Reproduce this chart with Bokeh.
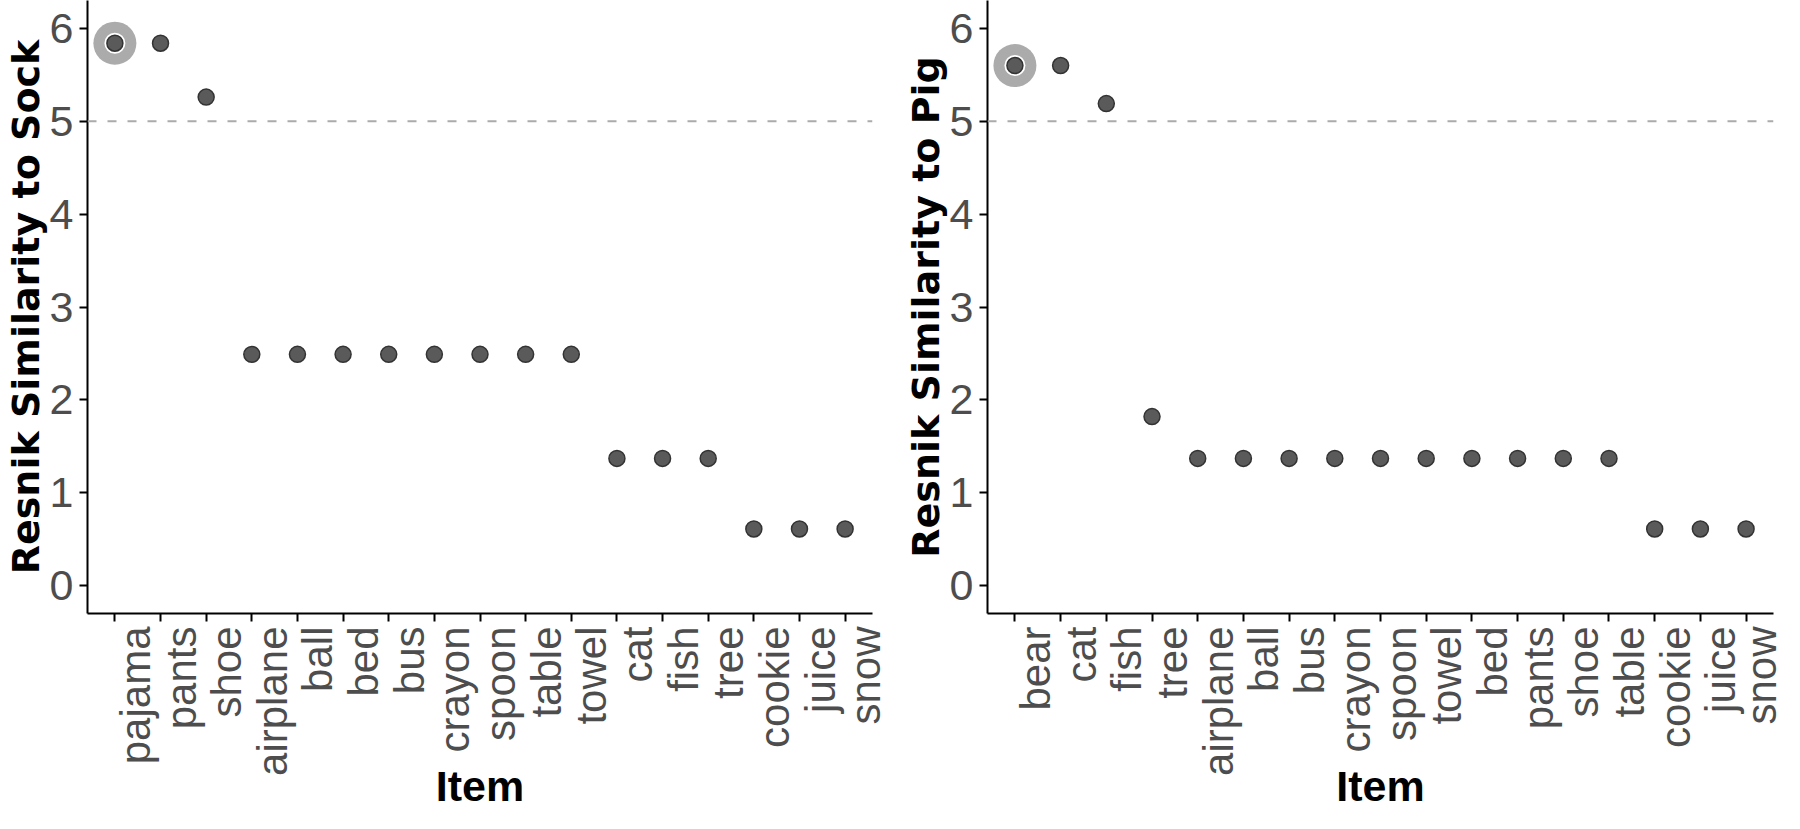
import math
from bokeh.plotting import figure
from bokeh.layouts import row
from bokeh.models import Range1d, FixedTicker, LinearAxis, Span, CustomJSTickFormatter
from bokeh.embed import file_html
from bokeh.resources import INLINE

# ---- data ----
sock_items = ["pajama", "pants", "shoe", "airplane", "ball", "bed", "bus", "crayon",
              "spoon", "table", "towel", "cat", "fish", "tree", "cookie", "juice", "snow"]
sock_values = [5.84, 5.84, 5.26, 2.49, 2.49, 2.49, 2.49, 2.49,
               2.49, 2.49, 2.49, 1.37, 1.37, 1.37, 0.61, 0.61, 0.61]
sock_highlight = ["pajama"]

pig_items = ["bear", "cat", "fish", "tree", "airplane", "ball", "bus", "crayon",
             "spoon", "towel", "bed", "pants", "shoe", "table", "cookie", "juice", "snow"]
pig_values = [5.60, 5.60, 5.19, 1.82, 1.37, 1.37, 1.37, 1.37,
              1.37, 1.37, 1.37, 1.37, 1.37, 1.37, 0.61, 0.61, 0.61]
pig_highlight = ["bear"]

y_ticks = [0, 1, 2, 3, 4, 5, 6]
threshold = 5
x_title = "Item"

TICK_FONT = "Liberation Sans"
TICK_COLOR = "#4D4D4D"


def make_panel(items, values, highlight, ylabel, width, bl, br):
    n = len(items)
    xs = [items.index(it) + 1 for it in items]
    p = figure(width=width, height=812, output_backend="svg", toolbar_location=None,
               x_range=Range1d(0.4, n + 0.6), y_range=Range1d(-0.3, 6.3),
               min_border_left=bl, min_border_right=br, min_border_top=0,
               min_border_bottom=150)
    p.outline_line_color = None
    p.grid.visible = False
    p.background_fill_color = "white"
    p.border_fill_color = "white"

    # main x axis: line + ticks only
    xa = p.xaxis[0]
    xa.ticker = FixedTicker(ticks=xs)
    xa.formatter = CustomJSTickFormatter(code="return ''")
    xa.major_label_standoff = 0
    xa.major_label_text_font_size = "1px"
    xa.axis_line_color = "black"
    xa.axis_line_width = 2
    xa.major_tick_line_color = "black"
    xa.major_tick_line_width = 2
    xa.major_tick_out = 8
    xa.major_tick_in = 0
    xa.minor_tick_line_color = None

    # label axis, offset like ggplot's rotated labels
    d = 0.45
    p.extra_x_ranges = {"labels": Range1d(0.4 - d, n + 0.6 - d)}
    la = LinearAxis(x_range_name="labels", ticker=FixedTicker(ticks=xs),
                    major_label_overrides={x: it for x, it in zip(xs, items)})
    la.axis_line_color = None
    la.major_tick_line_color = None
    la.minor_tick_line_color = None
    la.major_tick_out = 0
    la.major_tick_in = 0
    la.major_label_orientation = math.pi / 2
    la.major_label_standoff = 5
    la.major_label_text_font = TICK_FONT
    la.major_label_text_font_size = "42px"
    la.major_label_text_color = TICK_COLOR
    la.axis_label = x_title
    la.axis_label_text_font = "Liberation Sans"
    la.axis_label_text_font_style = "bold"
    la.axis_label_text_font_size = "43px"
    la.axis_label_text_color = "black"
    la.axis_label_standoff = -17
    p.add_layout(la, "below")

    ya = p.yaxis[0]
    ya.ticker = FixedTicker(ticks=y_ticks)
    ya.axis_line_color = "black"
    ya.axis_line_width = 2
    ya.major_tick_line_color = "black"
    ya.major_tick_line_width = 2
    ya.major_tick_out = 8
    ya.major_tick_in = 0
    ya.minor_tick_line_color = None
    ya.major_label_standoff = 6
    ya.major_label_text_font = TICK_FONT
    ya.major_label_text_font_size = "43px"
    ya.major_label_text_color = TICK_COLOR
    ya.axis_label = ylabel
    ya.axis_label_text_font = "DejaVu Sans"
    ya.axis_label_text_font_style = "bold"
    ya.axis_label_text_font_size = "38px"
    ya.axis_label_text_color = "black"
    ya.axis_label_standoff = -1

    p.add_layout(Span(location=threshold, dimension="width", line_color="#ABABAB",
                      line_dash="9 11", line_width=2))

    hx = [items.index(h) + 1 for h in highlight]
    hy = [values[items.index(h)] for h in highlight]
    p.scatter(hx, hy, size=43, fill_color="#ABABAB", line_color=None)
    p.scatter(hx, hy, size=21, fill_color="white", line_color=None)
    p.scatter(xs, values, size=16, fill_color="#5A5A5A", line_color="#333333",
              line_width=1.5)
    return p


p1 = make_panel(sock_items, sock_values, sock_highlight, "Resnik Similarity to Sock", 900, 80, 28)
p2 = make_panel(pig_items, pig_values, pig_highlight, "Resnik Similarity to Pig", 884, 81, 11)

layout = row(p1, p2)
open("out.html", "w").write(file_html(layout, INLINE))
